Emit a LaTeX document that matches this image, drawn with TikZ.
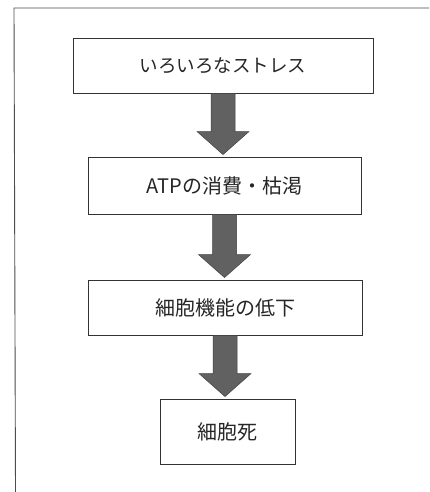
\documentclass[tikz,border=0pt]{standalone}
\usepackage{fontspec}
\setmainfont{Noto Sans CJK JP}
\usetikzlibrary{calc}
\tikzset{
  box/.style={draw=black!80, line width=0.9pt, fill=white, text=black!85, inner sep=0pt, font=\fontsize{20}{24}\selectfont},
  frameline/.style={draw=black!70, line width=0.9pt},
  fatarrow/.style={fill=black!62, draw=black!75, line width=0.5pt},
}
\newcommand\fatarrow[2]{%
  \filldraw[fatarrow] ($(#1.south)+(-12,0)$) -- ($(#1.south)+(12,0)$)
    -- ($(#1.south |- #2.north)+(12,-25)$) -- ($(#1.south |- #2.north)+(26,-25)$)
    -- ($(#1.south |- #2.north)+(0,-2)$)
    -- ($(#1.south |- #2.north)+(-26,-25)$) -- ($(#1.south |- #2.north)+(-12,-25)$) -- cycle;}
\begin{document}
\begin{tikzpicture}[x=1pt,y=-1pt]
  \useasboundingbox (0,0) rectangle (429,492);
  \coordinate (ftr) at (429,8);
  \coordinate (ftl) at (14,8);
  \coordinate (fbl) at (15.5,492);
  \draw[frameline] (ftr) -- (ftl) -- (fbl);
  \node[box, minimum width=300pt, minimum height=55pt, font=\fontsize{18.5}{22}\selectfont] (b1) at (223,65.5) {いろいろなストレス};
  \node[box, minimum width=273pt, minimum height=57pt] (b2) at (224.5,185.5) {ATPの消費・枯渇};
  \node[box, minimum width=274pt, minimum height=55pt] (b3) at (225,307.5) {細胞機能の低下};
  \node[box, minimum width=135pt, minimum height=65pt] (b4) at (227.5,431.5) {細胞死};
  \fatarrow{b1}{b2}
  \fatarrow{b2}{b3}
  \fatarrow{b3}{b4}
\end{tikzpicture}
\end{document}
